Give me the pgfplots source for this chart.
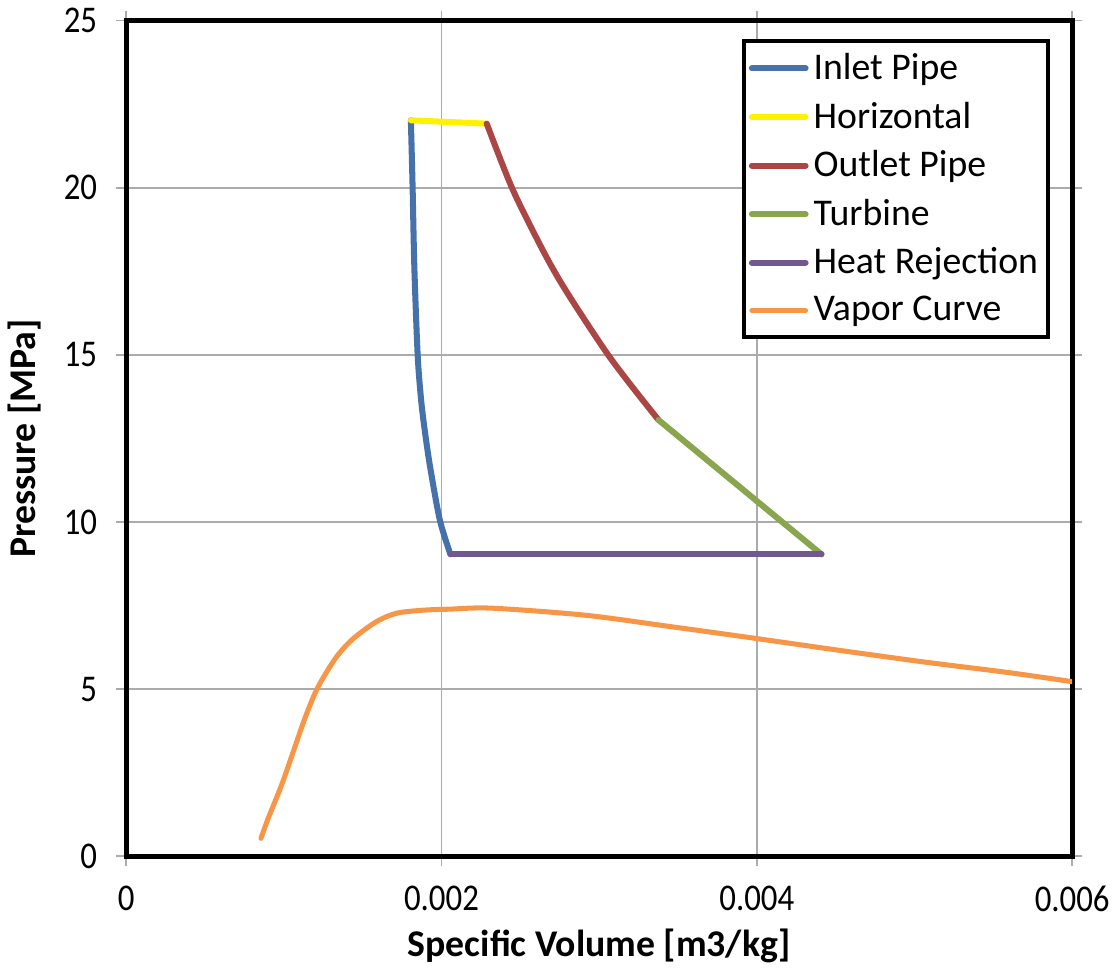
\documentclass[border=0pt]{standalone}
\usepackage{pgfplots}
\pgfplotsset{compat=1.18}
\usepackage{fontspec}
\setmainfont{Carlito}
\newfontfamily\tickfont{Carlito}[FakeStretch=0.87]

\definecolor{inletblue}{HTML}{4572AB}
\definecolor{outletred}{HTML}{AA4643}
\definecolor{turbgreen}{HTML}{89A54E}
\definecolor{heatpurple}{HTML}{71588F}
\definecolor{vapororange}{HTML}{F79646}
\definecolor{gridgray}{HTML}{ABABAB}

\begin{document}
\begin{tikzpicture}
\begin{axis}[
  scale only axis,
  width=376pt, height=332pt,
  xmin=0, xmax=0.006, ymin=0, ymax=25,
  xtick={0,0.002,0.004,0.006},
  xticklabels={0,0.002,0.004,0.006},
  ytick={0,5,10,15,20,25},
  yticklabels={0,5,10,15,20,25},
  scaled x ticks=false,
  grid=major,
  major grid style={gridgray, line width=0.6pt},
  axis line style={black, line width=2pt},
  tick style={gridgray, line width=0.6pt},
  tick align=outside,
  major tick length=4pt,
  tick label style={font=\tickfont\fontsize{15}{17}\selectfont},
  xticklabel style={yshift=-4.5pt},
  yticklabel style={xshift=-4pt},
  xlabel={\textbf{Specific Volume [m3/kg]}},
  ylabel={\textbf{Pressure [MPa]}},
  label style={font=\fontsize{15}{17}\selectfont},
  xlabel style={yshift=0pt},
  ylabel style={yshift=2pt},
  legend cell align=left,
  legend style={
    at={(rel axis cs:1,1)}, anchor=north east,
    xshift=-8.8pt, yshift=-7.2pt,
    draw=black, line width=1.6pt,
    font=\fontsize{15}{17}\selectfont,
    row sep=3.4pt, inner xsep=2pt, inner ysep=3pt,
  },
  legend image code/.code={
    \draw[#1, line cap=round] (0cm,0cm) -- (0.75cm,0cm);
  },
  every axis plot/.append style={line cap=round, line join=round},
]
% Inlet Pipe
\addplot[inletblue, line width=2.4pt, smooth] coordinates {
  (0.001806,22.02) (0.001817,20.0) (0.001828,17.62) (0.001849,15.0)
  (0.001872,13.6) (0.001898,12.6) (0.00193,11.59) (0.00199,10.05)
  (0.002057,9.03)
};
\addlegendentry{Inlet Pipe}
% Horizontal
\addplot[yellow, line width=2.4pt] coordinates {
  (0.001806,22.02) (0.002287,21.92)
};
\addlegendentry{Horizontal}
% Outlet Pipe
\addplot[outletred, line width=2.4pt, smooth] coordinates {
  (0.002287,21.92) (0.002447,20.0) (0.002621,18.33) (0.002738,17.32)
  (0.002872,16.31) (0.003057,15.0) (0.003217,14.0) (0.003377,13.05)
};
\addlegendentry{Outlet Pipe}
% Turbine
\addplot[turbgreen, line width=2.4pt] coordinates {
  (0.003377,13.05) (0.00441,9.03)
};
\addlegendentry{Turbine}
% Heat Rejection
\addplot[heatpurple, line width=2.4pt] coordinates {
  (0.002057,9.03) (0.00441,9.03)
};
\addlegendentry{Heat Rejection}
% Vapor Curve
\addplot[vapororange, line width=2pt, smooth] coordinates {
  (0.000855,0.53) (0.000902,1.14) (0.000987,2.14) (0.001062,3.15)
  (0.001136,4.15) (0.001217,5.06) (0.001334,5.96) (0.001441,6.51)
  (0.001589,7.02) (0.001717,7.27) (0.001887,7.36) (0.00205,7.39)
  (0.00232,7.42) (0.00291,7.21) (0.00345,6.87) (0.00400,6.51)
  (0.00452,6.16) (0.00506,5.81) (0.00560,5.49) (0.00600,5.22)
};
\addlegendentry{Vapor Curve}
\end{axis}
\end{tikzpicture}
\end{document}
